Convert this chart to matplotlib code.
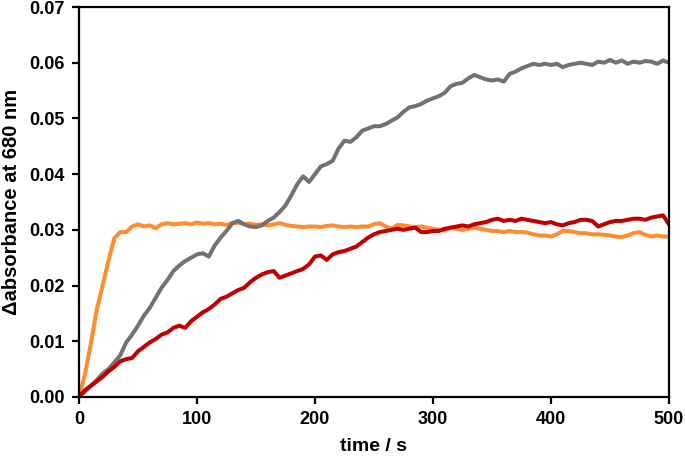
"""
Absorbance change at 680 nm versus time for three samples.
"""

import matplotlib
matplotlib.use("Agg")
import matplotlib.pyplot as plt

# sampling times (s)
time_s = list(range(0, 505, 5))

gray_abs = [
    0.0000, 0.0010, 0.0020, 0.0030, 0.0042, 0.0050, 0.0062, 0.0075, 0.0098, 0.0112,
    0.0128, 0.0146, 0.0160, 0.0178, 0.0196, 0.0210, 0.0226, 0.0236, 0.0244, 0.0250,
    0.0256, 0.0258, 0.0252, 0.0272, 0.0286, 0.0298, 0.0312, 0.0316, 0.0310, 0.0306,
    0.0305, 0.0308, 0.0316, 0.0322, 0.0332, 0.0344, 0.0362, 0.0382, 0.0396, 0.0386,
    0.0400, 0.0414, 0.0418, 0.0424, 0.0446, 0.0460, 0.0458, 0.0466, 0.0478, 0.0482,
    0.0486, 0.0486, 0.0490, 0.0496, 0.0502, 0.0512, 0.0520, 0.0522, 0.0526, 0.0532,
    0.0536, 0.0540, 0.0546, 0.0558, 0.0562, 0.0564, 0.0572, 0.0578, 0.0574, 0.0570,
    0.0568, 0.0570, 0.0566, 0.0580, 0.0584, 0.0590, 0.0594, 0.0598, 0.0596, 0.0598,
    0.0596, 0.0598, 0.0592, 0.0596, 0.0598, 0.0600, 0.0598, 0.0596, 0.0602, 0.0600,
    0.0605, 0.0600, 0.0604, 0.0598, 0.0602, 0.0600, 0.0603, 0.0602, 0.0598, 0.0604,
    0.0600,
]

red_abs = [
    0.0000, 0.0012, 0.0020, 0.0028, 0.0036, 0.0046, 0.0054, 0.0064, 0.0068, 0.0070,
    0.0082, 0.0090, 0.0098, 0.0104, 0.0112, 0.0116, 0.0124, 0.0128, 0.0124, 0.0136,
    0.0144, 0.0152, 0.0158, 0.0166, 0.0176, 0.0180, 0.0186, 0.0192, 0.0196, 0.0206,
    0.0214, 0.0220, 0.0224, 0.0226, 0.0214, 0.0218, 0.0222, 0.0226, 0.0230, 0.0238,
    0.0252, 0.0254, 0.0246, 0.0256, 0.0260, 0.0262, 0.0266, 0.0270, 0.0278, 0.0286,
    0.0292, 0.0296, 0.0298, 0.0300, 0.0302, 0.0300, 0.0302, 0.0304, 0.0296, 0.0296,
    0.0298, 0.0298, 0.0302, 0.0304, 0.0306, 0.0308, 0.0306, 0.0310, 0.0312, 0.0314,
    0.0318, 0.0320, 0.0316, 0.0318, 0.0316, 0.0320, 0.0318, 0.0316, 0.0314, 0.0312,
    0.0314, 0.0310, 0.0308, 0.0312, 0.0314, 0.0318, 0.0318, 0.0316, 0.0306, 0.0310,
    0.0314, 0.0316, 0.0316, 0.0318, 0.0320, 0.0320, 0.0318, 0.0322, 0.0324, 0.0326,
    0.0310,
]

orange_abs = [
    0.0000, 0.0040, 0.0095, 0.0156, 0.0200, 0.0245, 0.0285, 0.0296, 0.0296, 0.0306,
    0.0310, 0.0306, 0.0308, 0.0303, 0.0310, 0.0312, 0.0310, 0.0311, 0.0312, 0.0310,
    0.0313, 0.0311, 0.0312, 0.0310, 0.0311, 0.0309, 0.0312, 0.0313, 0.0310, 0.0311,
    0.0309, 0.0310, 0.0308, 0.0310, 0.0312, 0.0309, 0.0307, 0.0306, 0.0305, 0.0306,
    0.0306, 0.0305, 0.0307, 0.0308, 0.0306, 0.0305, 0.0306, 0.0305, 0.0306, 0.0306,
    0.0310, 0.0312, 0.0306, 0.0302, 0.0309, 0.0308, 0.0306, 0.0305, 0.0306, 0.0304,
    0.0302, 0.0300, 0.0299, 0.0304, 0.0302, 0.0300, 0.0302, 0.0304, 0.0302, 0.0300,
    0.0298, 0.0298, 0.0296, 0.0298, 0.0296, 0.0296, 0.0295, 0.0292, 0.0290, 0.0290,
    0.0288, 0.0292, 0.0298, 0.0298, 0.0296, 0.0294, 0.0294, 0.0292, 0.0292, 0.0291,
    0.0290, 0.0288, 0.0287, 0.0290, 0.0294, 0.0296, 0.0291, 0.0288, 0.0290, 0.0288,
    0.0288,
]

x_ticks = [0, 100, 200, 300, 400, 500]
y_ticks = [0.00, 0.01, 0.02, 0.03, 0.04, 0.05, 0.06, 0.07]

plt.rcParams["font.family"] = ["Liberation Sans", "DejaVu Sans"]
plt.rcParams["font.weight"] = "bold"

fig = plt.figure(figsize=(6.85, 4.58), dpi=100)
ax = fig.add_axes([0.1153, 0.1332, 0.8613, 0.8515])

ax.plot(time_s, orange_abs, color="#FF8C2E", linewidth=2.9)
ax.plot(time_s, gray_abs, color="#767171", linewidth=2.9)
ax.plot(time_s, red_abs, color="#C00000", linewidth=2.9)

ax.set_xlim(0, 500)
ax.set_ylim(0, 0.07)
ax.set_xticks(x_ticks)
ax.set_yticks(y_ticks)
ax.set_xticklabels([str(t) for t in x_ticks])
ax.set_yticklabels(["%.2f" % v for v in y_ticks])

for side in ax.spines.values():
    side.set_linewidth(1.6)
ax.tick_params(direction="out", length=5, width=1.6, labelsize=13, pad=5)
for lab in ax.get_xticklabels() + ax.get_yticklabels():
    lab.set_fontweight("bold")

ax.set_xlabel("time / s", fontsize=14, fontweight="bold", labelpad=7)
ax.set_ylabel("\u0394absorbance at 680 nm", fontsize=14.5, fontweight="bold", labelpad=6)

fig.savefig("out.png", dpi=100)
